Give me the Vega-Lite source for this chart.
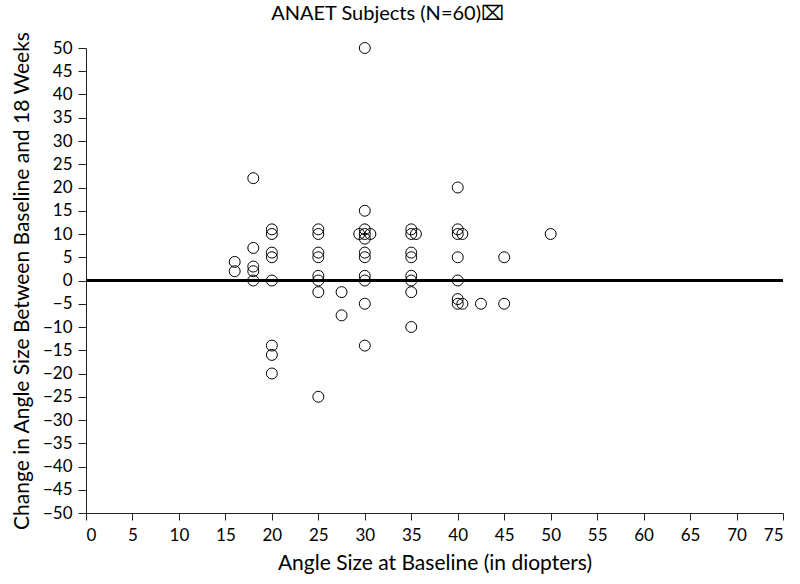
{
  "$schema": "https://vega.github.io/schema/vega-lite/v6.json",
  "width": 697,
  "height": 465,
  "autosize": {"type": "none"},
  "padding": {"left": 86, "top": 48, "right": 17, "bottom": 71},
  "background": "white",
  "config": {"view": {"stroke": null}, "font": "Lato"},
  "title": {"text": "ANAET Subjects (N=60)⌧", "font": "Lato", "fontSize": 20, "fontWeight": "normal", "color": "black", "anchor": "middle", "frame": "bounds", "offset": 7, "dx": -10},
  "data": {"values": [
    {"baseline": 16, "change": 4}, {"baseline": 16, "change": 2},
    {"baseline": 18, "change": 22}, {"baseline": 18, "change": 7}, {"baseline": 18, "change": 3}, {"baseline": 18, "change": 2}, {"baseline": 18, "change": 0},
    {"baseline": 20, "change": 11}, {"baseline": 20, "change": 10}, {"baseline": 20, "change": 6}, {"baseline": 20, "change": 5}, {"baseline": 20, "change": 0}, {"baseline": 20, "change": -14}, {"baseline": 20, "change": -16}, {"baseline": 20, "change": -20},
    {"baseline": 25, "change": 11}, {"baseline": 25, "change": 10}, {"baseline": 25, "change": 6}, {"baseline": 25, "change": 5}, {"baseline": 25, "change": 1}, {"baseline": 25, "change": 0}, {"baseline": 25, "change": -2.5}, {"baseline": 25, "change": -25},
    {"baseline": 27.5, "change": -2.5}, {"baseline": 27.5, "change": -7.5},
    {"baseline": 30, "change": 50}, {"baseline": 30, "change": 15}, {"baseline": 30, "change": 11}, {"baseline": 29.4, "change": 10}, {"baseline": 30, "change": 10}, {"baseline": 30.6, "change": 10}, {"baseline": 30, "change": 9}, {"baseline": 30, "change": 6}, {"baseline": 30, "change": 5}, {"baseline": 30, "change": 1}, {"baseline": 30, "change": 0}, {"baseline": 30, "change": -5}, {"baseline": 30, "change": -14},
    {"baseline": 35, "change": 11}, {"baseline": 35, "change": 10}, {"baseline": 35.5, "change": 10}, {"baseline": 35, "change": 6}, {"baseline": 35, "change": 5}, {"baseline": 35, "change": 1}, {"baseline": 35, "change": 0}, {"baseline": 35, "change": -2.5}, {"baseline": 35, "change": -10},
    {"baseline": 40, "change": 20}, {"baseline": 40, "change": 11}, {"baseline": 40, "change": 10}, {"baseline": 40.5, "change": 10}, {"baseline": 40, "change": 5}, {"baseline": 40, "change": 0}, {"baseline": 40, "change": -4}, {"baseline": 40, "change": -5}, {"baseline": 40.5, "change": -5},
    {"baseline": 42.5, "change": -5}, {"baseline": 45, "change": 5}, {"baseline": 45, "change": -5}, {"baseline": 50, "change": 10}
  ]},
  "layer": [
    {
      "mark": {"type": "rule", "color": "black", "strokeWidth": 1.6},
      "encoding": {"y": {"datum": 0, "type": "quantitative", "scale": {"domain": [-50, 50], "nice": false},
          "axis": {"title": "Change in Angle Size Between Baseline and 18 Weeks", "values": [-50,-45,-40,-35,-30,-25,-20,-15,-10,-5,0,5,10,15,20,25,30,35,40,45,50], "labelOverlap": false, "grid": false, "domainColor": "#222", "tickColor": "#222", "tickSize": 8, "labelFont": "Lato", "labelFontSize": 17, "labelColor": "black", "labelPadding": 6, "titleFont": "Lato", "titleFontSize": 21, "titleFontWeight": "normal", "titleColor": "black", "titlePadding": 10}}}
    },
    {
      "mark": {"type": "point", "shape": "circle", "filled": false, "color": "black", "strokeWidth": 1, "size": 120, "opacity": 1},
      "encoding": {
        "x": {"field": "baseline", "type": "quantitative", "scale": {"domain": [0, 75], "nice": false, "zero": false},
          "axis": {"title": "Angle Size at Baseline (in diopters)", "values": [0,5,10,15,20,25,30,35,40,45,50,55,60,65,70,75], "labelOverlap": false, "grid": false, "domainColor": "#222", "tickColor": "#222", "tickSize": 7, "labelFont": "Lato", "labelFontSize": 17, "labelColor": "black", "labelPadding": 7, "titleFont": "Lato", "titleFontSize": 21, "titleFontWeight": "normal", "titleColor": "black", "titlePadding": 9}},
        "y": {"field": "change", "type": "quantitative", "scale": {"domain": [-50, 50], "nice": false},
          "axis": {"title": "Change in Angle Size Between Baseline and 18 Weeks", "values": [-50,-45,-40,-35,-30,-25,-20,-15,-10,-5,0,5,10,15,20,25,30,35,40,45,50], "labelOverlap": false, "grid": false, "domainColor": "#222", "tickColor": "#222", "tickSize": 8, "labelFont": "Lato", "labelFontSize": 17, "labelColor": "black", "labelPadding": 6, "titleFont": "Lato", "titleFontSize": 21, "titleFontWeight": "normal", "titleColor": "black", "titlePadding": 10}}
      }
    }
  ]
}
